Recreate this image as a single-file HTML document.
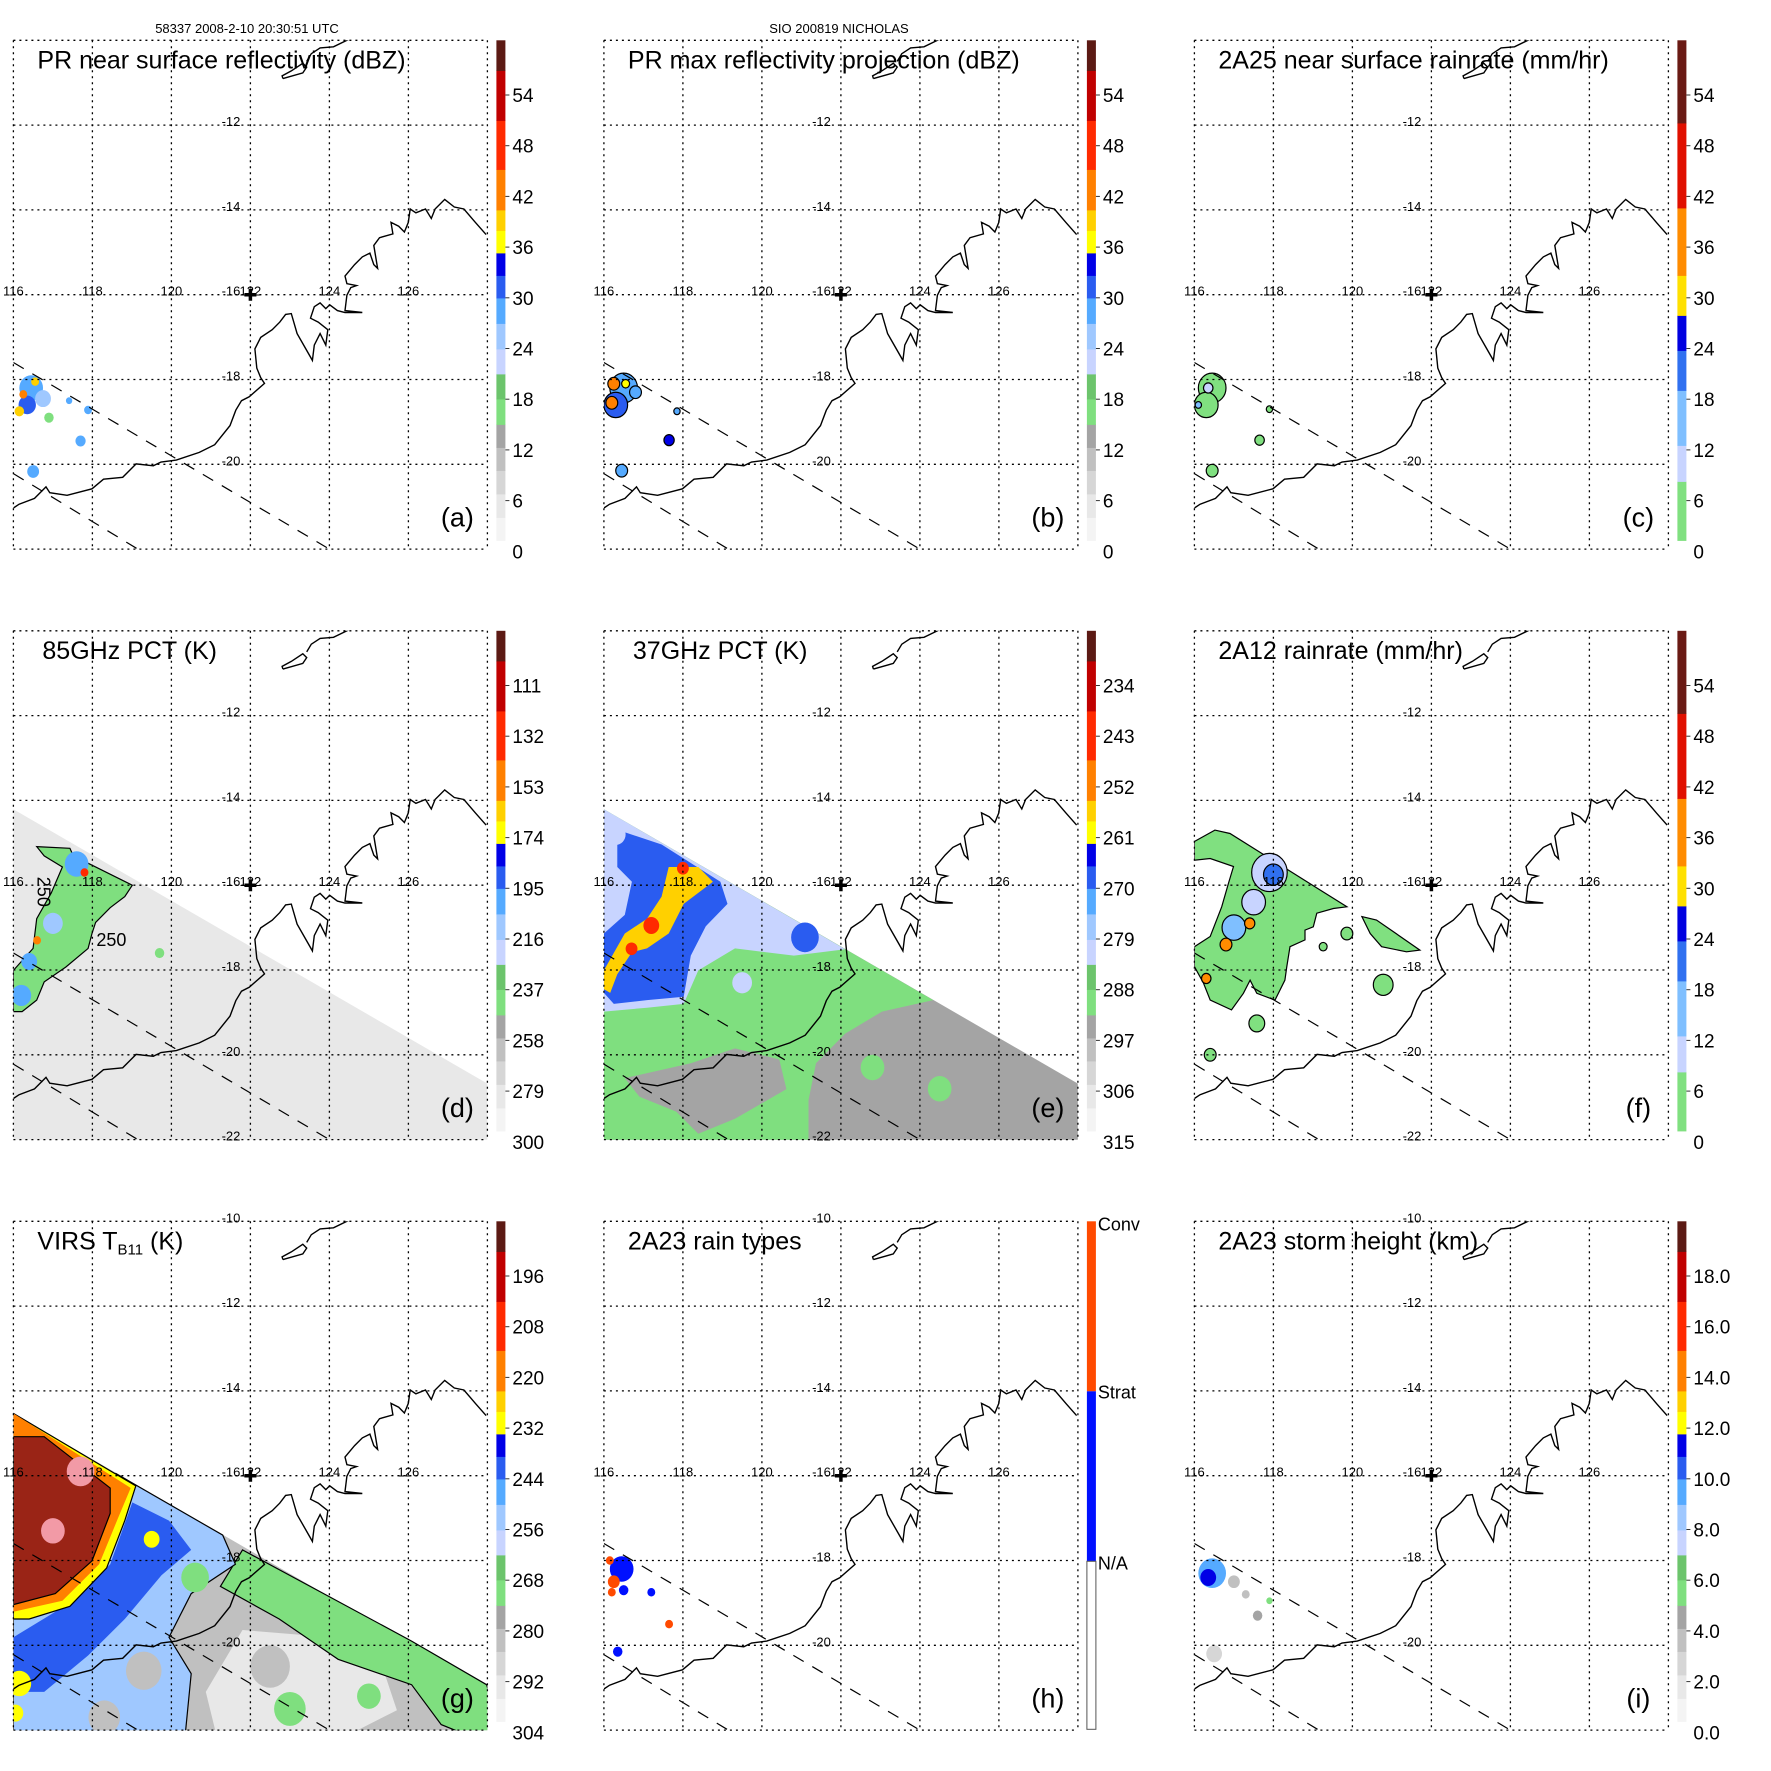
<!DOCTYPE html>
<html><head><meta charset="utf-8"><style>
html,body{margin:0;padding:0;background:#fff;}
svg{display:block;font-family:"Liberation Sans",Arial,sans-serif;}
</style></head><body>
<svg id="fig" width="1771" height="1771" viewBox="0 0 1771 1771" xmlns="http://www.w3.org/2000/svg">
<rect x="0" y="0" width="1771" height="1771" fill="#fff"/>
<text x="247" y="33" font-size="13" text-anchor="middle">58337 2008-2-10 20:30:51 UTC</text>
<text x="839" y="33" font-size="13" text-anchor="middle">SIO 200819 NICHOLAS</text>
</svg>
<script>
// ---------- data (lon, lat, value) ----------
const lonTicks=[116,118,120,122,124,126,128];
const latTicks=[-10,-12,-14,-16,-18,-20,-22];
const lonLabels=["116","118","120","122","124","126"];
const stdLabels=["0","6","12","18","24","30","36","42","48","54"];
const pct85Labels=["300","279","258","237","216","195","174","153","132","111"];
const pct37Labels=["315","306","297","288","279","270","261","252","243","234"];
const virsLabels=["304","292","280","268","256","244","232","220","208","196"];
const heightLabels=["0.0","2.0","4.0","6.0","8.0","10.0","12.0","14.0","16.0","18.0"];
const swathPR1=[[116,-17.6],[124,-22]];
const swathPR2=[[116,-20.22],[119.15,-22]];
const swathTMI=[[116,-14.21],[128,-20.68],[128,-22.5],[116,-22.5]];
const swathVIRS=[[116,-14.53],[128,-21.01],[128,-22.5],[116,-22.5]];
// coastline digitised (reference pixel grid of panel a)
const coastRef=[[35,1325],[50,1315],[90,1300],[115,1275],[120,1270],[130,1285],[175,1292],[240,1275],[270,1250],[320,1245],[355,1210],[400,1215],[420,1205],[460,1200],[520,1180],[560,1160],[600,1110],[615,1070],[630,1045],[650,1035],[690,1000],[680,985],[670,960],[665,910],[680,880],[710,860],[730,840],[745,820],[760,818],[775,870],[815,940],[820,900],[835,870],[850,900],[855,860],[830,840],[810,830],[820,800],[835,790],[850,805],[860,795],[880,810],[900,815],[945,815],[900,810],[905,770],[915,750],[930,745],[905,740],[900,720],[925,690],[945,670],[965,660],[975,690],[985,700],[975,640],[990,620],[1025,610],[1020,580],[1040,590],[1055,605],[1065,580],[1070,545],[1085,555],[1110,545],[1125,570],[1135,545],[1160,520],[1185,540],[1210,545],[1240,580],[1268,612]];
const islandRef=[[738,205],[790,190],[800,175],[790,165],[760,185],[736,198],[738,205]];
const islandLineRef=[[800,160],[812,140],[835,125],[870,122],[915,100]];
const aBlobs=[[116.45,-18.2,0.3,28],[116.35,-18.6,0.22,31],[116.75,-18.45,0.2,26],[116.25,-18.35,0.1,42],[116.55,-18.05,0.1,38],[116.15,-18.75,0.12,40],[117.41,-18.5,0.08,28],[117.89,-18.72,0.1,27],[117.7,-19.45,0.13,30],[116.5,-20.17,0.15,30],[116.9,-18.9,0.12,17]];
const bBlobs=[[116.5,-18.2,0.35,30],[116.3,-18.6,0.3,32],[116.25,-18.1,0.15,42],[116.2,-18.55,0.15,44],[116.55,-18.1,0.1,37],[116.8,-18.3,0.15,27],[117.65,-19.43,0.13,34],[116.45,-20.15,0.15,30],[117.85,-18.75,0.08,28]];
const cBlobs=[[116.45,-18.2,0.35,3],[116.3,-18.6,0.3,3],[116.35,-18.2,0.12,10],[116.1,-18.6,0.08,18],[117.65,-19.43,0.12,3],[116.45,-20.15,0.15,3],[117.9,-18.7,0.08,3]];
const dStrip=[[116.59,-15.09],[117.43,-15.13],[117.52,-15.31],[119.01,-16.0],[118.82,-16.27],[118.45,-16.53],[118.08,-16.88],[117.99,-17.14],[117.89,-17.49],[117.33,-17.93],[116.78,-18.28],[116.59,-18.71],[116.22,-18.98],[116,-18.98],[116,-18.01],[116.5,-17.49],[116.59,-16.79],[116.96,-16.18],[117.24,-15.57],[116.78,-15.31]];
const dBlobs=[[117.6,-15.5,0.3,205],[117.0,-16.9,0.25,210],[116.4,-17.8,0.2,205],[116.2,-18.6,0.25,200],[117.8,-15.7,0.1,140],[116.6,-17.3,0.1,150],[119.7,-17.6,0.12,240]];
const eGreen=[[116,-14.21],[124.34,-18.71],[123.04,-18.98],[122.11,-19.5],[121.37,-20.2],[121.18,-21.07],[121.18,-22.5],[116,-22.5]];
const eGrayPatch=[[116.53,-20.55],[118.2,-20.2],[119.32,-19.85],[120.44,-20.11],[120.62,-20.81],[119.32,-21.51],[118.39,-21.86],[117.83,-21.34],[116.9,-20.99]];
const eLight=[[116,-14.21],[122.11,-17.51],[120.81,-17.66],[119.32,-17.49],[118.39,-18.01],[118.02,-18.8],[117.09,-18.89],[116,-18.98]];
const eBlue=[[116.34,-14.69],[117.46,-15.04],[118.95,-15.92],[119.13,-16.44],[118.58,-16.97],[118.2,-17.66],[118.02,-18.63],[117.09,-18.71],[116.25,-18.8],[116,-18.54],[116,-17.14],[116.53,-16.7],[116.71,-15.92],[116.34,-15.57]];
const eYellow=[[117.64,-15.57],[118.39,-15.57],[118.76,-15.92],[118.02,-16.44],[117.64,-17.14],[117.09,-17.49],[116.71,-17.58],[116.34,-18.1],[116.16,-18.54],[116,-18.45],[116,-18.01],[116.53,-17.14],[117.09,-16.79],[117.46,-16.27]];
const eBlobs=[[121.09,-17.23,0.35,268],[117.2,-16.95,0.2,240],[116.7,-17.5,0.15,240],[118.0,-15.6,0.15,243],[116.3,-14.8,0.25,280],[119.5,-18.3,0.25,280],[122.8,-20.3,0.3,288],[124.5,-20.8,0.3,288]];
const fGreen=[[116,-14.97],[116.52,-14.7],[116.9,-14.78],[119.86,-16.51],[119.52,-16.55],[119.1,-16.66],[119.01,-16.98],[118.8,-17.06],[118.8,-17.29],[118.42,-17.45],[118.34,-17.92],[118.29,-18.24],[118.04,-18.71],[117.58,-18.55],[117.41,-18.24],[117.24,-18.55],[116.94,-18.94],[116.4,-18.71],[116.23,-18.31],[116,-17.92],[116,-17.45],[116.4,-17.21],[116.69,-16.51],[116.86,-15.96],[116.99,-15.56],[116.4,-15.37],[116,-15.41]];
const fGreen2=[[120.24,-16.74],[120.61,-16.82],[121.71,-17.53],[121.37,-17.57],[120.74,-17.45],[120.45,-17.14]];
const fBlobs=[[117.9,-15.7,0.45,12],[118.0,-15.75,0.25,22],[117.5,-16.4,0.3,11],[117.0,-17.0,0.3,15],[116.8,-17.4,0.15,40],[117.4,-16.9,0.13,40],[116.3,-18.2,0.12,40],[119.86,-17.14,0.15,3],[120.78,-18.35,0.25,3],[117.58,-19.26,0.2,3],[116.4,-20.0,0.15,3],[119.26,-17.45,0.1,3]];
const gLight=[[121.8,-19.64],[124.03,-19.81],[125.34,-20.5],[125.71,-21.53],[123.66,-22.5],[121.24,-22.5],[120.87,-21.1]];
const gGreen=[[121.8,-17.75],[124.03,-18.87],[126.08,-19.9],[127.98,-20.93],[128.5,-22.5],[126.83,-21.87],[126.08,-20.93],[124.22,-20.33],[122.73,-19.38],[121.24,-18.61]];
const gBlue=[[118.6,-15.95],[121.3,-17.4],[121.62,-18.09],[120.5,-18.78],[119.94,-19.81],[120.5,-20.67],[120.31,-22.5],[116,-22.5],[116,-19.25],[117.15,-18.87],[118.08,-18.09],[118.45,-17.23]];
const gDarkBlue=[[119.01,-16.63],[119.94,-17.06],[120.5,-17.75],[119.75,-18.35],[118.82,-19.38],[117.89,-20.24],[116.78,-21.1],[116,-21.1],[116,-19.81],[117.52,-18.95],[118.45,-18.09]];
const gYellow=[[116,-14.53],[119.1,-16.24],[118.82,-17.06],[118.36,-18.18],[117.43,-19.08],[116.4,-19.38],[116,-19.38]];
const gOrange=[[116,-14.53],[118.97,-16.29],[118.64,-17.02],[118.17,-18.09],[117.24,-18.95],[116,-19.21]];
const gRed=[[116,-15.08],[116.78,-15.08],[118.45,-16.29],[118.45,-16.89],[117.99,-18.01],[117.06,-18.78],[116,-19.04]];
const gBlobs=[[117.7,-15.9,0.35,"pink"],[117.0,-17.3,0.3,"pink"],[116.15,-20.9,0.3,232],[116.05,-21.6,0.2,232],[121.0,-19.2,0.5,282],[119.3,-20.6,0.45,282],[122.5,-20.5,0.5,282],[118.3,-21.7,0.4,282],[120.6,-18.4,0.35,270],[123.0,-21.5,0.4,270],[125.0,-21.2,0.3,270],[119.5,-17.5,0.2,232]];
const hBlobs=[[116.45,-18.2,0.3,1],[116.25,-18.5,0.15,2],[116.15,-18.0,0.1,2],[116.5,-18.7,0.12,1],[116.2,-18.75,0.1,2],[117.2,-18.75,0.1,1],[117.65,-19.5,0.1,2],[116.35,-20.15,0.12,1]];
const iBlobs=[[116.45,-18.3,0.35,9],[116.35,-18.4,0.2,11],[117.0,-18.5,0.15,4],[117.6,-19.3,0.12,5],[116.5,-20.2,0.2,3],[117.3,-18.8,0.1,4],[117.9,-18.95,0.08,6]];

// ---------- rendering ----------
const NS="http://www.w3.org/2000/svg";
const svg=document.getElementById('fig');
const W=474,H=509,DEG_X=39.5,DEG_Y=42.4;
function mk(tag,attrs,parent){const e=document.createElementNS(NS,tag);for(const k in attrs)e.setAttribute(k,attrs[k]);parent.appendChild(e);return e;}
const stdPal=[[0.046,"#f4f4f4"],[0.093,"#e8e8e8"],[0.14,"#d6d6d6"],[0.186,"#c0c0c0"],[0.232,"#a4a4a4"],[0.283,"#7fdf7f"],[0.333,"#6cc46c"],[0.383,"#c8d4ff"],[0.434,"#9fc8ff"],[0.485,"#55aaff"],[0.53,"#2a5cf0"],[0.575,"#0000e6"],[0.62,"#ffff00"],[0.661,"#ffd000"],[0.742,"#ff8000"],[0.84,"#ff2a00"],[0.94,"#c00000"],[1.0,"#5c1a14"]];
const rainPal=[[0.118,"#80e080"],[0.19,"#c8d4ff"],[0.3,"#7fbfff"],[0.38,"#3070f0"],[0.45,"#0000e0"],[0.53,"#ffe000"],[0.665,"#ff8c00"],[0.835,"#e01000"],[1.0,"#6a1a14"]];
function palColor(pal,f){for(const s of pal){if(f<=s[0])return s[1];}return pal[pal.length-1][1];}

const panels=[
 {id:"a",c:0,r:0,title:"PR near surface reflectivity (dBZ)",labels:stdLabels,v0:0,step:6,pal:stdPal,blobs:aBlobs,contour:false},
 {id:"b",c:1,r:0,title:"PR max reflectivity projection (dBZ)",labels:stdLabels,v0:0,step:6,pal:stdPal,blobs:bBlobs,contour:true},
 {id:"c",c:2,r:0,title:"2A25 near surface rainrate (mm/hr)",labels:stdLabels,v0:0,step:6,pal:rainPal,blobs:cBlobs,contour:true},
 {id:"d",c:0,r:1,title:"85GHz PCT (K)",labels:pct85Labels,v0:300,step:-21,pal:stdPal,blobs:dBlobs,contour:false},
 {id:"e",c:1,r:1,title:"37GHz PCT (K)",labels:pct37Labels,v0:315,step:-9,pal:stdPal,blobs:eBlobs,contour:false},
 {id:"f",c:2,r:1,title:"2A12 rainrate (mm/hr)",labels:stdLabels,v0:0,step:6,pal:rainPal,blobs:fBlobs,contour:true},
 {id:"g",c:0,r:2,title:"VIRS",labels:virsLabels,v0:304,step:-12,pal:stdPal,blobs:gBlobs,contour:false},
 {id:"h",c:1,r:2,title:"2A23 rain types",labels:null,pal:null,blobs:hBlobs,contour:false},
 {id:"i",c:2,r:2,title:"2A23 storm height (km)",labels:heightLabels,v0:0,step:2,pal:stdPal,blobs:iBlobs,contour:false}
];

panels.forEach(p=>{
 const ox=13.4+590.5*p.c, oy=40.3+590.5*p.r;
 const X=lon=>ox+(lon-116)*DEG_X, Y=lat=>oy+(-10-lat)*DEG_Y;
 const pts=a=>a.map(q=>X(q[0]).toFixed(1)+","+Y(q[1]).toFixed(1)).join(" ");
 const frac=v=>(v-p.v0)/p.step*0.1014-0.022;
 const col=v=>{
   if(v==="pink")return "#f29aa6";
   if(p.id==="h")return v===2?"#ff4a00":"#0010ff";
   return palColor(p.pal,frac(v));
 };
 const g=mk('g',{},svg);
 
 
 const cp=mk('clipPath',{id:'clip-'+p.id},g);
 mk('rect',{x:ox,y:oy,width:W,height:H},cp);
 const data=mk('g',{'clip-path':'url(#clip-'+p.id+')'},g);
 
 
 const poly=(arr,v,stroke)=>{const e=mk('polygon',{points:pts(arr),fill:col(v),stroke:stroke?"#000":"none","stroke-width":stroke?1.2:0},data);return e;};
 if(p.id==="d"){
   const s=poly(swathTMI,285);
   const st=poly(dStrip,240,true);
 }
 if(p.id==="e"){
   const s=poly(swathTMI,295);
   const a1=poly(eGreen,290);
   const a2=poly(eGrayPatch,295);
   const a3=poly(eLight,280);
   const a4=poly(eBlue,268);
   const a5=poly(eYellow,258);
 }
 if(p.id==="f"){
   const a1=poly(fGreen,3,true);
   const a2=poly(fGreen2,3,true);
 }
 if(p.id==="g"){
   const s=poly(swathVIRS,282);
   const a1=poly(gLight,292);
   const a2=poly(gGreen,270,true);
   const a3=poly(gBlue,252,true);
   const a4=poly(gDarkBlue,240);
   const a5=poly(gYellow,232,true);
   const a6=poly(gOrange,222);
   const a7=poly(gRed,195,true);a7.setAttribute('fill','#9a2416');
 }
 p.blobs.forEach(b=>{
   const e=mk('ellipse',{cx:X(b[0]),cy:Y(b[1]),rx:b[2]*DEG_X,ry:b[2]*DEG_Y,fill:col(b[3]),stroke:p.contour?"#000":"none","stroke-width":p.contour?1.2:0},data);
   
   
 });
 lonTicks.forEach(lon=>{const e=mk('line',{x1:X(lon),y1:oy,x2:X(lon),y2:oy+H,stroke:"#000","stroke-width":1.3,"stroke-dasharray":"2,4"},g);
   });
 latTicks.forEach(lat=>{const e=mk('line',{x1:ox,y1:Y(lat),x2:ox+W,y2:Y(lat),stroke:"#000","stroke-width":1.3,"stroke-dasharray":"2,4"},g);
   });
 const cg=mk('g',{'clip-path':'url(#clip-'+p.id+')'},g);
 const refLL=q=>[115.66+0.009706*q[0],-9.05-0.009042*q[1]];
 const lineStr=a=>a.map(q=>{const ll=refLL(q);return X(ll[0]).toFixed(1)+","+Y(ll[1]).toFixed(1);}).join(" ");
 const coast=mk('polyline',{points:lineStr(coastRef),fill:"none",stroke:"#000","stroke-width":1.4},cg);
 
 const isl=mk('polyline',{points:lineStr(islandRef),fill:"none",stroke:"#000","stroke-width":1.4},cg);
 
 const isl2=mk('polyline',{points:lineStr(islandLineRef),fill:"none",stroke:"#000","stroke-width":1.4},cg);
 
 [swathPR1,swathPR2].forEach(s=>{const e=mk('line',{x1:X(s[0][0]),y1:Y(s[0][1]),x2:X(s[1][0]),y2:Y(s[1][1]),stroke:"#000","stroke-width":1.2,"stroke-dasharray":"12,10"},cg);
   });
 lonLabels.forEach((t,k)=>{const e=mk('text',{x:X(116+2*k),y:Y(-16)+1,"font-size":13,"text-anchor":"middle"},g);e.textContent=t;
   });
 const latShow=p.r===0?[-12,-14,-16,-18,-20]:(p.r===1?[-12,-14,-16,-18,-20,-22]:[-10,-12,-14,-16,-18,-20]);
 latShow.forEach(lat=>{const e=mk('text',{x:ox+227,y:Y(lat)+1,"font-size":13,"text-anchor":"end"},g);e.textContent=String(lat);
   });
 const cx=X(122),cy=Y(-16);
 const cr=mk('path',{d:`M${cx-6},${cy}H${cx+6}M${cx},${cy-6}V${cy+6}`,stroke:"#000","stroke-width":3.5},g);
 
 const tt=mk('text',{x:ox+(p.id==="d"||p.id==="e"?29:24),y:oy+28,"font-size":25},g);
 if(p.id==="g"){tt.textContent="VIRS T";const s=mk('tspan',{"font-size":15,dy:5},tt);s.textContent="B11";const s2=mk('tspan',{dy:-5},tt);s2.textContent=" (K)";}
 else tt.textContent=p.title;
 
 const pl=mk('text',{x:ox+444,y:oy+486,"font-size":27,"text-anchor":"middle"},g);pl.textContent="("+p.id+")";
 
 if(p.id==="d"){
   const t1=mk('text',{x:ox+83,y:oy+315,"font-size":18},g);t1.textContent="250";
   const t2=mk('text',{x:0,y:0,"font-size":18,transform:`translate(${ox+24},${oy+246}) rotate(90)`},g);t2.textContent="250";
 }
 const bx=ox+483,bw=9,by=oy,bh=500;
 const cb=mk('g',{},g);
 
 
 if(p.id==="h"){
   const r1=mk('rect',{x:bx,y:by,width:bw,height:170,fill:"#ff4a00"},cb);
   const r2=mk('rect',{x:bx,y:by+170,width:bw,height:170,fill:"#0010ff"},cb);
   const r3=mk('rect',{x:bx,y:by+340,width:bw,height:168,fill:"#fff",stroke:"#555","stroke-width":1},cb);
   [["Conv",2],["Strat",170],["N/A",341]].forEach(q=>{const e=mk('text',{x:bx+11,y:by+q[1]+7,"font-size":18},cb);e.textContent=q[0];
     });
 } else {
   let prev=0;
   p.pal.forEach(s=>{const e=mk('rect',{x:bx,y:by+bh*(1-s[0]),width:bw,height:bh*(s[0]-prev)+0.6,fill:s[1]},cb);prev=s[0];
     });
   p.labels.forEach((t,k)=>{const f=k*0.1014-0.022;const y=by+bh*(1-f);
     if(f>0){const tk=mk('line',{x1:bx+bw,y1:y,x2:bx+bw+4,y2:y,stroke:"#333","stroke-width":1},cb);}
     const e=mk('text',{x:bx+16,y:y+7,"font-size":19},cb);e.textContent=t;
     });
 }
});
</script>
</body></html>
